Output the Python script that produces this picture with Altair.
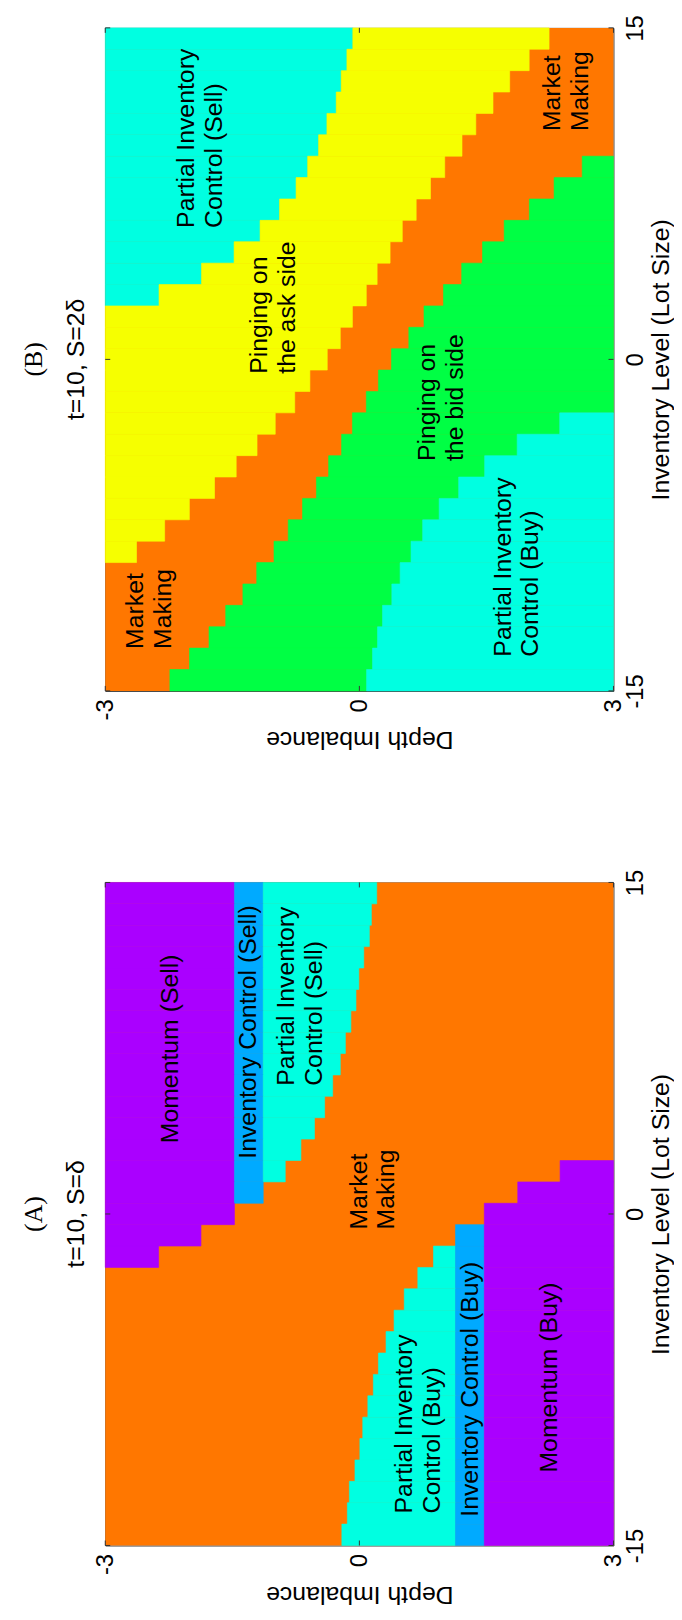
import altair as alt
import pandas as pd

# Inventory level of each row, top row first (31 rows, rendered as cells spanning -15..15)
INV_ROWS = [15, 14, 13, 12, 11, 10, 9, 8, 7, 6, 5, 4, 3, 2, 1, 0,
            -1, -2, -3, -4, -5, -6, -7, -8, -9, -10, -11, -12, -13, -14, -15]

N = None
# ---------------- Panel A : t=10, S=delta (depth-imbalance boundaries per row) -------------
A_SELL_MOM_END = [-1.475, -1.475, -1.475, -1.475, -1.475, -1.475, -1.475, -1.475, -1.475, -1.475,
                  -1.475, -1.475, -1.475, -1.475, -1.475, -1.475, -1.87, -2.37, N, N,
                  N, N, N, N, N, N, N, N, N, N, N]
A_SELL_IC_END = [-1.135, -1.135, -1.135, -1.135, -1.135, -1.135, -1.135, -1.135, -1.135, -1.135,
                 -1.135, -1.135, -1.135, -1.135, -1.135, N, N, N, N, N,
                 N, N, N, N, N, N, N, N, N, N, N]
A_SELL_PIC_END = [0.205, 0.142, 0.118, 0.052, -0.006, -0.04, -0.10, -0.165, -0.225, -0.315,
                  -0.41, -0.53, -0.69, -0.875, N, N, N, N, N, N,
                  N, N, N, N, N, N, N, N, N, N, N]
A_BUY_PIC_START = [N, N, N, N, N, N, N, N, N, N,
                   N, N, N, N, N, N, N, 0.875, 0.69, 0.53,
                   0.41, 0.315, 0.225, 0.165, 0.10, 0.04, 0.006, -0.052, -0.118, -0.142, -0.207]
A_BUY_IC_START = [N, N, N, N, N, N, N, N, N, N,
                  N, N, N, N, N, N, 1.135, 1.135, 1.135, 1.135,
                  1.135, 1.135, 1.135, 1.135, 1.135, 1.135, 1.135, 1.135, 1.135, 1.135, 1.135]
A_BUY_MOM_START = [N, N, N, N, N, N, N, N, N, N,
                   N, N, N, 2.37, 1.87, 1.475, 1.475, 1.475, 1.475, 1.475,
                   1.475, 1.475, 1.475, 1.475, 1.475, 1.475, 1.475, 1.475, 1.475, 1.475, 1.475]

# ---------------- Panel B : t=10, S=2 delta ----------------
B_SELL_PIC_END = [-0.077, -0.147, -0.214, -0.273, -0.383, -0.481, -0.610, -0.747, -0.942, -1.172,
                  -1.479, -1.863, -2.365, N, N, N, N, N, N, N,
                  N, N, N, N, N, N, N, N, N, N, N]
B_ASK_END = [2.24, 2.005, 1.775, 1.578, 1.375, 1.212, 1.008, 0.84, 0.671, 0.507,
             0.363, 0.210, 0.082, -0.082, -0.225, -0.379, -0.584, -0.763, -0.993, -1.208,
             -1.454, -1.710, -2.007, -2.299, -2.631, N, N, N, N, N, N]
B_BID_START = [N, N, N, N, N, N, 2.631, 2.299, 2.007, 1.710,
               1.454, 1.208, 0.993, 0.763, 0.584, 0.379, 0.225, 0.082, -0.082, -0.210,
               -0.363, -0.507, -0.671, -0.84, -1.008, -1.212, -1.375, -1.578, -1.775, -2.005, -2.237]
B_BUY_PIC_START = [N, N, N, N, N, N, N, N, N, N,
                   N, N, N, N, N, N, N, N, 2.365, 1.863,
                   1.479, 1.172, 0.942, 0.747, 0.610, 0.481, 0.383, 0.273, 0.214, 0.155, 0.085]

REGIONS = ["Market Making", "Momentum", "Inventory Control", "Partial Inventory Control",
           "Pinging ask", "Pinging bid"]
COLORS = ["#FF7700", "#AA00FF", "#00AAFF", "#00FFE1", "#F6FF00", "#00FF44"]

# text labels (position = first line, start of the rotated text)
A_LABELS = ["Momentum (Sell)", "Inventory Control (Sell)", "Partial Inventory\nControl (Sell)",
            "Market\nMaking", "Partial Inventory\nControl (Buy)", "Inventory Control (Buy)",
            "Momentum (Buy)"]
A_LABEL_D = [-2.237, -1.312, -0.862, -0.007, 0.532, 1.312, 2.237]
A_LABEL_Q = [3.2, 2.5, 5.8, -0.7, -13.55, -13.7, -11.7]

B_LABELS = ["Partial Inventory\nControl (Sell)", "Pinging on\nthe ask side",
            "Pinging on\nthe bid side", "Partial Inventory\nControl (Buy)",
            "Market\nMaking", "Market\nMaking"]
B_LABEL_D = [-2.049, -1.184, 0.797, 1.693, -2.643, 2.272]
B_LABEL_Q = [5.95, -0.65, -4.6, -13.45, -13.1, 10.33]

D_TICKS = [-3, 0, 3]
Q_TICKS = [-15, 0, 15]

NROW = len(INV_ROWS)
CELL = 30.0 / NROW


def row_span(k):
    top = 15 - k * CELL
    return top - CELL, top


def segs_a():
    rows = []
    for k in range(NROW):
        lo, hi = row_span(k)
        def add(reg, a, b):
            if a is not None and b is not None and b > a:
                rows.append(dict(x=a, x2=b, y=lo, y2=hi, region=reg))
        m = A_SELL_MOM_END[k]
        if m is not None:
            add("Momentum", -3, m)
        ic = A_SELL_IC_END[k]
        if ic is not None:
            add("Inventory Control", m, ic)
        pe = A_SELL_PIC_END[k]
        if pe is not None:
            add("Partial Inventory Control", ic, pe)
        ps, ics, ms = A_BUY_PIC_START[k], A_BUY_IC_START[k], A_BUY_MOM_START[k]
        if ps is not None:
            add("Partial Inventory Control", ps, ics)
        if ics is not None:
            add("Inventory Control", ics, ms)
        if ms is not None:
            add("Momentum", ms, 3)
    return pd.DataFrame(rows)


def segs_b():
    rows = []
    for k in range(NROW):
        lo, hi = row_span(k)
        def add(reg, a, b):
            if b > a:
                rows.append(dict(x=a, x2=b, y=lo, y2=hi, region=reg))
        se = B_SELL_PIC_END[k]
        if se is not None:
            add("Partial Inventory Control", -3, se)
        ae = B_ASK_END[k]
        if ae is not None:
            add("Pinging ask", se if se is not None else -3, ae)
        bs = B_BID_START[k]
        bp = B_BUY_PIC_START[k]
        if bs is not None:
            add("Pinging bid", bs, bp if bp is not None else 3)
        if bp is not None:
            add("Partial Inventory Control", bp, 3)
    return pd.DataFrame(rows)


FONT = "Liberation Sans"
W, H = 512, 668

xscale = alt.Scale(domain=[-3, 3], nice=False, zero=False)
yscale = alt.Scale(domain=[-15, 15], nice=False, zero=False)
color_scale = alt.Scale(domain=REGIONS, range=COLORS)
minus_expr = "datum.value < 0 ? '-' + (-datum.value) : '' + datum.value"

x_axis = alt.Axis(values=D_TICKS, title="Depth Imbalance", labelAngle=270, labelAlign="right",
                  labelBaseline="middle", labelPadding=8, ticks=False, domain=False, grid=False,
                  titleAngle=180, titleY=49, titleBaseline="middle", labelFontSize=24,
                  titleFontSize=25, labelFont=FONT, titleFont=FONT, titleFontWeight="normal",
                  labelColor="black", titleColor="black", labelOverlap=False, labelExpr=minus_expr)
y_axis = alt.Axis(values=Q_TICKS, orient="right", title="Inventory Level (Lot Size)",
                  labelAngle=270, labelAlign="center", labelBaseline="top", labelPadding=10,
                  ticks=False, domain=False, grid=False, titleAngle=270, titleX=47,
                  titleBaseline="middle", labelFontSize=24, titleFontSize=25, labelFont=FONT,
                  titleFont=FONT, titleFontWeight="normal", labelColor="black",
                  titleColor="black", labelOverlap=False, labelExpr=minus_expr)


def panel(segs, labels, ld, lq, letter, sub):
    bg = alt.Chart(pd.DataFrame({"x": [-3], "x2": [3], "y": [-15], "y2": [15]})).mark_rect(
        color="#FF7700").encode(
        x=alt.X("x:Q", scale=xscale, axis=x_axis), x2="x2:Q",
        y=alt.Y("y:Q", scale=yscale, axis=y_axis), y2="y2:Q")
    rects = alt.Chart(segs).mark_rect(strokeWidth=0.6).encode(
        x=alt.X("x:Q", scale=xscale), x2="x2:Q",
        y=alt.Y("y:Q", scale=yscale), y2="y2:Q",
        color=alt.Color("region:N", scale=color_scale, legend=None),
        stroke=alt.Stroke("region:N", scale=color_scale, legend=None))
    txt = alt.Chart(pd.DataFrame({"x": ld, "y": lq, "t": labels})).mark_text(
        angle=270, align="left", baseline="middle", lineBreak="\n", lineHeight=28,
        fontSize=25, font=FONT, color="black").encode(
        x=alt.X("x:Q", scale=xscale), y=alt.Y("y:Q", scale=yscale), text="t:N")
    xt = pd.DataFrame({"x": D_TICKS})
    yt = pd.DataFrame({"y": Q_TICKS})
    tick_b = alt.Chart(xt).mark_rule(color="#333").encode(
        x=alt.X("x:Q", scale=xscale), y=alt.value(H), y2=alt.value(H - 5))
    tick_t = alt.Chart(xt).mark_rule(color="#333").encode(
        x=alt.X("x:Q", scale=xscale), y=alt.value(0), y2=alt.value(5))
    tick_r = alt.Chart(yt).mark_rule(color="#333").encode(
        y=alt.Y("y:Q", scale=yscale), x=alt.value(W), x2=alt.value(W - 5))
    tick_l = alt.Chart(yt).mark_rule(color="#333").encode(
        y=alt.Y("y:Q", scale=yscale), x=alt.value(0), x2=alt.value(5))
    return alt.layer(bg, rects, txt, tick_b, tick_t, tick_r, tick_l).properties(
        width=W, height=H,
        title=alt.TitleParams(text=letter, subtitle=sub, orient="left", anchor="middle",
                              font="Liberation Serif", fontSize=26, fontWeight="normal",
                              color="black", subtitleFont=FONT, subtitleFontSize=25,
                              subtitleColor="black", offset=4, subtitlePadding=18))


pB = panel(segs_b(), B_LABELS, B_LABEL_D, B_LABEL_Q, "(B)", "t=10, S=2δ")
pA = panel(segs_a(), A_LABELS, A_LABEL_D, A_LABEL_Q, "(A)", "t=10, S=δ")

chart = alt.vconcat(pB, pA, spacing=117).properties(
    padding={"left": 12, "top": 0, "right": 0, "bottom": 0},
    background="white").configure_view(stroke="#333", strokeWidth=1)

chart.save("out.html", embed_options={"renderer": "svg", "actions": False})
